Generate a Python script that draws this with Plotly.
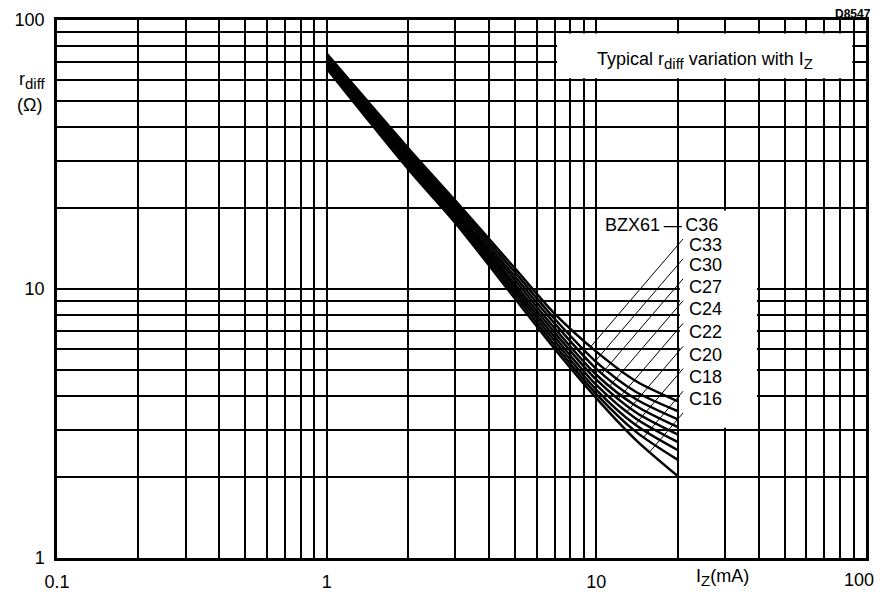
import numpy as np
import plotly.graph_objects as go

# ---------------- data ----------------
current_mA = [1, 2, 3, 5, 7, 10, 14, 20]
series_names = ["C36", "C33", "C30", "C27", "C24", "C22", "C20", "C18", "C16"]
r_C36 = [75.0, 33.5, 21.3, 11.9, 8.10, 5.85, 4.55, 3.83]
r_C33 = [74.0, 32.8, 20.8, 11.5, 7.75, 5.35, 4.15, 3.52]
r_C30 = [73.0, 32.1, 20.3, 11.1, 7.45, 5.05, 3.90, 3.28]
r_C27 = [72.0, 31.4, 19.8, 10.75, 7.15, 4.80, 3.68, 3.07]
r_C24 = [71.0, 30.7, 19.4, 10.4, 6.90, 4.60, 3.48, 2.88]
r_C22 = [70.0, 30.0, 19.0, 10.1, 6.65, 4.40, 3.30, 2.70]
r_C20 = [68.5, 29.3, 18.5, 9.8, 6.42, 4.22, 3.12, 2.52]
r_C18 = [67.5, 28.6, 18.0, 9.5, 6.20, 4.07, 2.95, 2.32]
r_C16 = [66.0, 28.0, 17.6, 9.2, 6.00, 3.93, 2.75, 2.02]
series_values = [r_C36, r_C33, r_C30, r_C27, r_C24, r_C22, r_C20, r_C18, r_C16]

x_tick_vals = [0.1, 1, 10, 100]
x_tick_text = ["0.1", "1", "10", "100"]
y_tick_vals = [1, 10, 100]
y_tick_text = ["1", "10", "100"]

# ---------------- layout constants ----------------
FONT = "Liberation Sans"
INK = "#000000"
PAGE_OFF = 8                      # default body margin of the html page
W, H = 882 - PAGE_OFF, 592 - PAGE_OFF
PL, PR, PT, PB = 57, 866, 20, 558  # plot-area edges in window pixels
ML, MT = PL - PAGE_OFF, PT - PAGE_OFF
MR = PAGE_OFF + W - PR
MB = PAGE_OFF + H - PB
PW, PH = PR - PL, PB - PT
PX_X = PW / 3.0   # px per decade
PX_Y = PH / 2.0

def paper_x(px):
    return (px - PL) / PW

def paper_y(py):
    return (PB - py) / PH

def grid_vals(lo_exp, hi_exp):
    vals = []
    for e in range(lo_exp, hi_exp):
        for m in range(1, 10):
            vals.append(m * 10.0 ** e)
    vals.append(10.0 ** hi_exp)
    return vals

def grid_text(vals, major_vals, major_text):
    out = []
    for v in vals:
        lab = ""
        for mv, mt in zip(major_vals, major_text):
            if abs(np.log10(v) - np.log10(mv)) < 1e-9:
                lab = mt
        out.append(lab)
    return out

xg = grid_vals(-1, 2)
yg = grid_vals(0, 2)
x_text = grid_text(xg, x_tick_vals, x_tick_text)
last_x_label = x_text[-1]
x_text[-1] = ""   # drawn as an annotation, nudged left so it stays inside the window

fig = go.Figure()

# white boxes (cover gridlines behind the texts)
fig.add_trace(go.Scatter(x=[7.15, 89, 89, 7.15, 7.15], y=[60.8, 60.8, 89.0, 89.0, 60.8],
                         mode="lines", fill="toself", fillcolor="white",
                         line=dict(width=0, color="white"), hoverinfo="skip", showlegend=False))
fig.add_trace(go.Scatter(x=[20.4, 39.4, 39.4, 20.4, 20.4], y=[3.05, 3.05, 19.6, 19.6, 3.05],
                         mode="lines", fill="toself", fillcolor="white",
                         line=dict(width=0, color="white"), hoverinfo="skip", showlegend=False))

# curves
for name, vals in zip(series_names, series_values):
    fig.add_trace(go.Scatter(x=current_mA, y=vals, mode="lines", name=name,
                             line=dict(color=INK, width=2.5, shape="spline", smoothing=0.8),
                             hoverinfo="skip", showlegend=False))

# labels and leader lines
label_I_left = 21.7
label_I_right_c36 = 28.7
label_r = [17.3, 14.6, 12.3, 10.2, 8.4, 6.9, 5.7, 4.7, 3.9]
lead_slope = 1.17
lx = np.log10(current_mA)
annotations = []
for i, (name, vals) in enumerate(zip(series_names, series_values)):
    if i == 0:
        annotations.append(dict(x=np.log10(label_I_right_c36), y=np.log10(label_r[i]),
                                xref="x", yref="y", text="BZX61\u2009\u2014\u2009C36",
                                showarrow=False, xanchor="right", yanchor="middle",
                                font=dict(family=FONT, size=18, color=INK)))
    else:
        annotations.append(dict(x=np.log10(label_I_left), y=np.log10(label_r[i]),
                                xref="x", yref="y", text=name,
                                showarrow=False, xanchor="left", yanchor="middle",
                                font=dict(family=FONT, size=18, color=INK)))
    sx = np.log10(label_I_left) - 4 / PX_X
    sy = np.log10(label_r[i]) - 14 / PX_Y
    t = np.linspace(sx, sx - 0.8, 4000)
    ly = sy + lead_slope * (t - sx)
    cy = np.interp(t, lx, np.log10(vals))
    idx = np.argmax(ly - cy <= 0)
    ex, ey = t[idx], cy[idx]
    fig.add_trace(go.Scatter(x=[10 ** sx, 10 ** ex], y=[10 ** sy, 10 ** ey], mode="lines",
                             line=dict(color=INK, width=1), hoverinfo="skip", showlegend=False))

SUB = '<sub><span style="font-size:15px">{}</span></sub>'

# other texts
annotations += [
    dict(x=paper_x(705), y=paper_y(60), xref="paper", yref="paper",
         text="Typical r" + SUB.format("diff") + " variation with I" + SUB.format("Z"), showarrow=False,
         xanchor="center", yanchor="middle", font=dict(family=FONT, size=18, color=INK)),
    dict(x=paper_x(873), y=paper_y(14), xref="paper", yref="paper",
         text="<b>D8547</b>", showarrow=False, xanchor="right", yanchor="middle",
         font=dict(family=FONT, size=12, color=INK)),
    dict(x=paper_x(32), y=paper_y(80), xref="paper", yref="paper",
         text="r" + SUB.format("diff"), showarrow=False, xanchor="center", yanchor="middle",
         font=dict(family=FONT, size=18, color=INK)),
    dict(x=paper_x(29), y=paper_y(105), xref="paper", yref="paper",
         text="(\u03a9)", showarrow=False, xanchor="center", yanchor="middle",
         font=dict(family=FONT, size=18, color=INK)),
    dict(x=paper_x(722), y=paper_y(577), xref="paper", yref="paper",
         text="I" + SUB.format("Z") + "(mA)", showarrow=False, xanchor="center", yanchor="middle",
         font=dict(family=FONT, size=18, color=INK)),
    dict(x=paper_x(876), y=paper_y(580), xref="paper", yref="paper",
         text=last_x_label, showarrow=False, xanchor="right", yanchor="middle",
         font=dict(family=FONT, size=18, color=INK)),
]

axis_common = dict(type="log", showgrid=True, gridcolor=INK, gridwidth=1.6,
                   showline=True, linecolor=INK, linewidth=2.5, mirror=True, automargin=False,
                   ticks="", zeroline=False,
                   tickfont=dict(family=FONT, size=18, color=INK))

fig.update_layout(
    width=W, height=H,
    margin=dict(l=ML, r=MR, t=MT, b=MB, autoexpand=False),
    paper_bgcolor="white", plot_bgcolor="white",
    xaxis=dict(range=[-1, 2], tickmode="array", tickvals=xg,
               ticktext=x_text, ticklabelstandoff=6, **axis_common),
    yaxis=dict(range=[0, 2], tickmode="array", tickvals=yg,
               ticktext=grid_text(yg, y_tick_vals, y_tick_text), ticklabelstandoff=6, **axis_common),
    annotations=annotations,
    showlegend=False,
)

fig.write_html("out.html")
